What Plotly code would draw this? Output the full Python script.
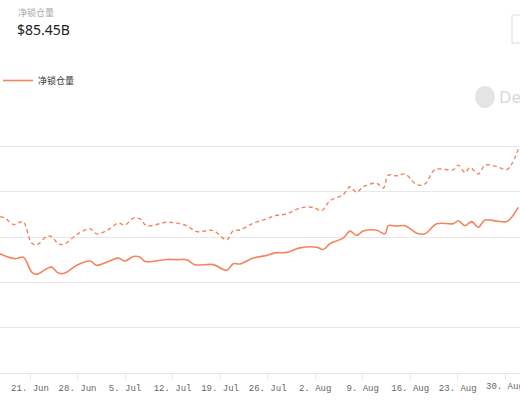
import plotly.graph_objects as go
import datetime as dt

# day offsets from 21 Jun 2021
solid_days = [-4.42,-2.21,-0.98,0.25,0.98,2.45,3.19,4.17,5.15,6.87,8.84,9.82,11.29,13.01,13.99,15.22,16.2,16.94,20.13,21.6,23.07,24.3,27.0,28.96,29.95,30.93,32.89,34.86,36.08,37.8,39.76,42.22,43.2,44.18,46.15,47.13,48.1,49.09,51.06,52.28,52.77,54.0,55.23,56.95,58.17,59.89,62.35,63.08,64.06,65.05,66.03,67.01,68.73,70.2,70.94,71.92]
solid_vals = [52.6,50.4,51.1,44.5,43.5,46.0,46.7,44.1,44.1,47.5,49.4,47.5,48.9,50.7,49.4,51.4,51.1,49.2,50.1,50.0,50.0,47.8,47.8,45.3,48.2,48.1,50.7,51.9,53.0,53.2,55.2,55.5,54.5,57.0,59.6,62.6,60.7,62.6,63.0,61.4,65.0,64.8,65.0,61.7,61.4,65.8,65.9,67.2,65.0,66.8,64.3,67.5,67.0,66.8,68.7,73.1]
dash_days = [-4.42,-3.68,-2.45,-1.47,-0.98,0.25,0.98,2.45,3.19,4.17,5.15,6.87,8.84,9.82,11.29,13.01,13.99,15.22,16.2,17.18,20.13,21.6,23.07,24.55,27.0,28.96,29.95,30.93,32.89,34.86,36.08,37.8,39.76,41.73,42.96,44.18,46.15,47.13,48.1,49.09,51.06,52.04,52.77,54.0,55.23,56.95,58.17,59.65,62.35,63.08,64.06,64.8,66.03,67.01,68.73,70.2,70.94,71.92]
dash_vals = [69.0,68.4,65.5,66.5,66.8,57.3,56.5,60.2,60.2,57.0,57.0,61.1,63.6,61.4,62.8,66.1,65.3,68.3,68.0,65.0,66.5,66.1,65.0,62.4,62.8,58.7,62.8,63.1,66.1,68.0,69.4,70.2,72.8,73.1,71.6,76.0,78.7,82.2,79.7,82.2,83.7,81.6,87.3,87.0,87.8,83.1,83.4,89.7,89.7,91.7,88.5,90.7,87.8,91.7,91.1,89.7,92.1,98.7]
tick_dates = ["2021-06-21","2021-06-28","2021-07-05","2021-07-12","2021-07-19","2021-07-26","2021-08-02","2021-08-09","2021-08-16","2021-08-23","2021-08-30"]
tick_labels = ["21. Jun","28. Jun","5. Jul","12. Jul","19. Jul","26. Jul","2. Aug","9. Aug","16. Aug","23. Aug","30. Aug"]

base = dt.datetime(2021, 6, 21)
to_dt = lambda ds: [base + dt.timedelta(days=d) for d in ds]
color = "#f4845f"
tickfont = dict(family="Liberation Mono", size=9, color="#666")

pw, ph = 520, 272
def px(x, y):
    return x / pw, (373 - y) / ph

fig = go.Figure()
fig.add_trace(go.Scatter(x=to_dt(dash_days), y=dash_vals, mode="lines", line=dict(color=color, width=1.4, dash="4px,3px", shape="spline"), showlegend=False))
fig.add_trace(go.Scatter(x=to_dt(solid_days), y=solid_vals, mode="lines", name="净锁仓量", line=dict(color=color, width=1.6, shape="spline")))

fig.update_layout(
    width=520, height=400, margin=dict(l=0, r=0, t=101, b=27, autoexpand=False),
    paper_bgcolor="white", plot_bgcolor="white",
    font=dict(family="Noto Sans CJK SC"),
    legend=dict(x=px(-2, 0)[0], y=px(0, 66)[1], xanchor="left", yanchor="top", orientation="h", font=dict(size=9, color="#333"), bgcolor="rgba(0,0,0,0)", itemwidth=30),
    xaxis=dict(range=[base + dt.timedelta(days=-4.42), base + dt.timedelta(days=72.17)], tickvals=tick_dates, ticktext=tick_labels,
               showgrid=False, showline=True, linecolor="#e6e6e6", ticks="outside", ticklen=6, tickcolor="#e6e6e6",
               tickfont=tickfont),
    yaxis=dict(range=[0, 120], dtick=20, showticklabels=False, gridcolor="#e8e8e8", zeroline=False, fixedrange=True),
)
# last tick label, partially cut at the right edge as in the reference
fig.add_annotation(x=tick_dates[-1], y=px(0, 387)[1], xref="x", yref="paper", text=tick_labels[-1], showarrow=False,
                   font=tickfont, xanchor="center", yanchor="middle")
for x, y, t, f in [(16, 12, "净锁仓量", dict(size=9, color="#aaa")),
                   (15, 29, "$85.45B", dict(size=14, color="#222", family="Noto Sans")),
                   (497, 96, "De", dict(size=17, color="#d8d8d8", family="Noto Sans"))]:
    ax, ay = px(x, y)
    fig.add_annotation(x=ax, y=ay, xref="paper", yref="paper", text=t, showarrow=False, font=f, xanchor="left", yanchor="middle")
fig.add_shape(type="rect", xref="paper", yref="paper", x0=px(512, 0)[0], x1=px(530, 0)[0], y0=px(0, 15)[1], y1=px(0, 43)[1], line=dict(color="#ddd", width=1))
fig.add_shape(type="circle", xref="paper", yref="paper", x0=px(475, 0)[0], x1=px(495, 0)[0], y0=px(0, 86)[1], y1=px(0, 108)[1], fillcolor="#e4e4e4", line=dict(width=0))
fig.write_html("out.html", config={"displayModeBar": False},
               post_script="document.body.style.margin='0';document.body.style.overflow='hidden';")
